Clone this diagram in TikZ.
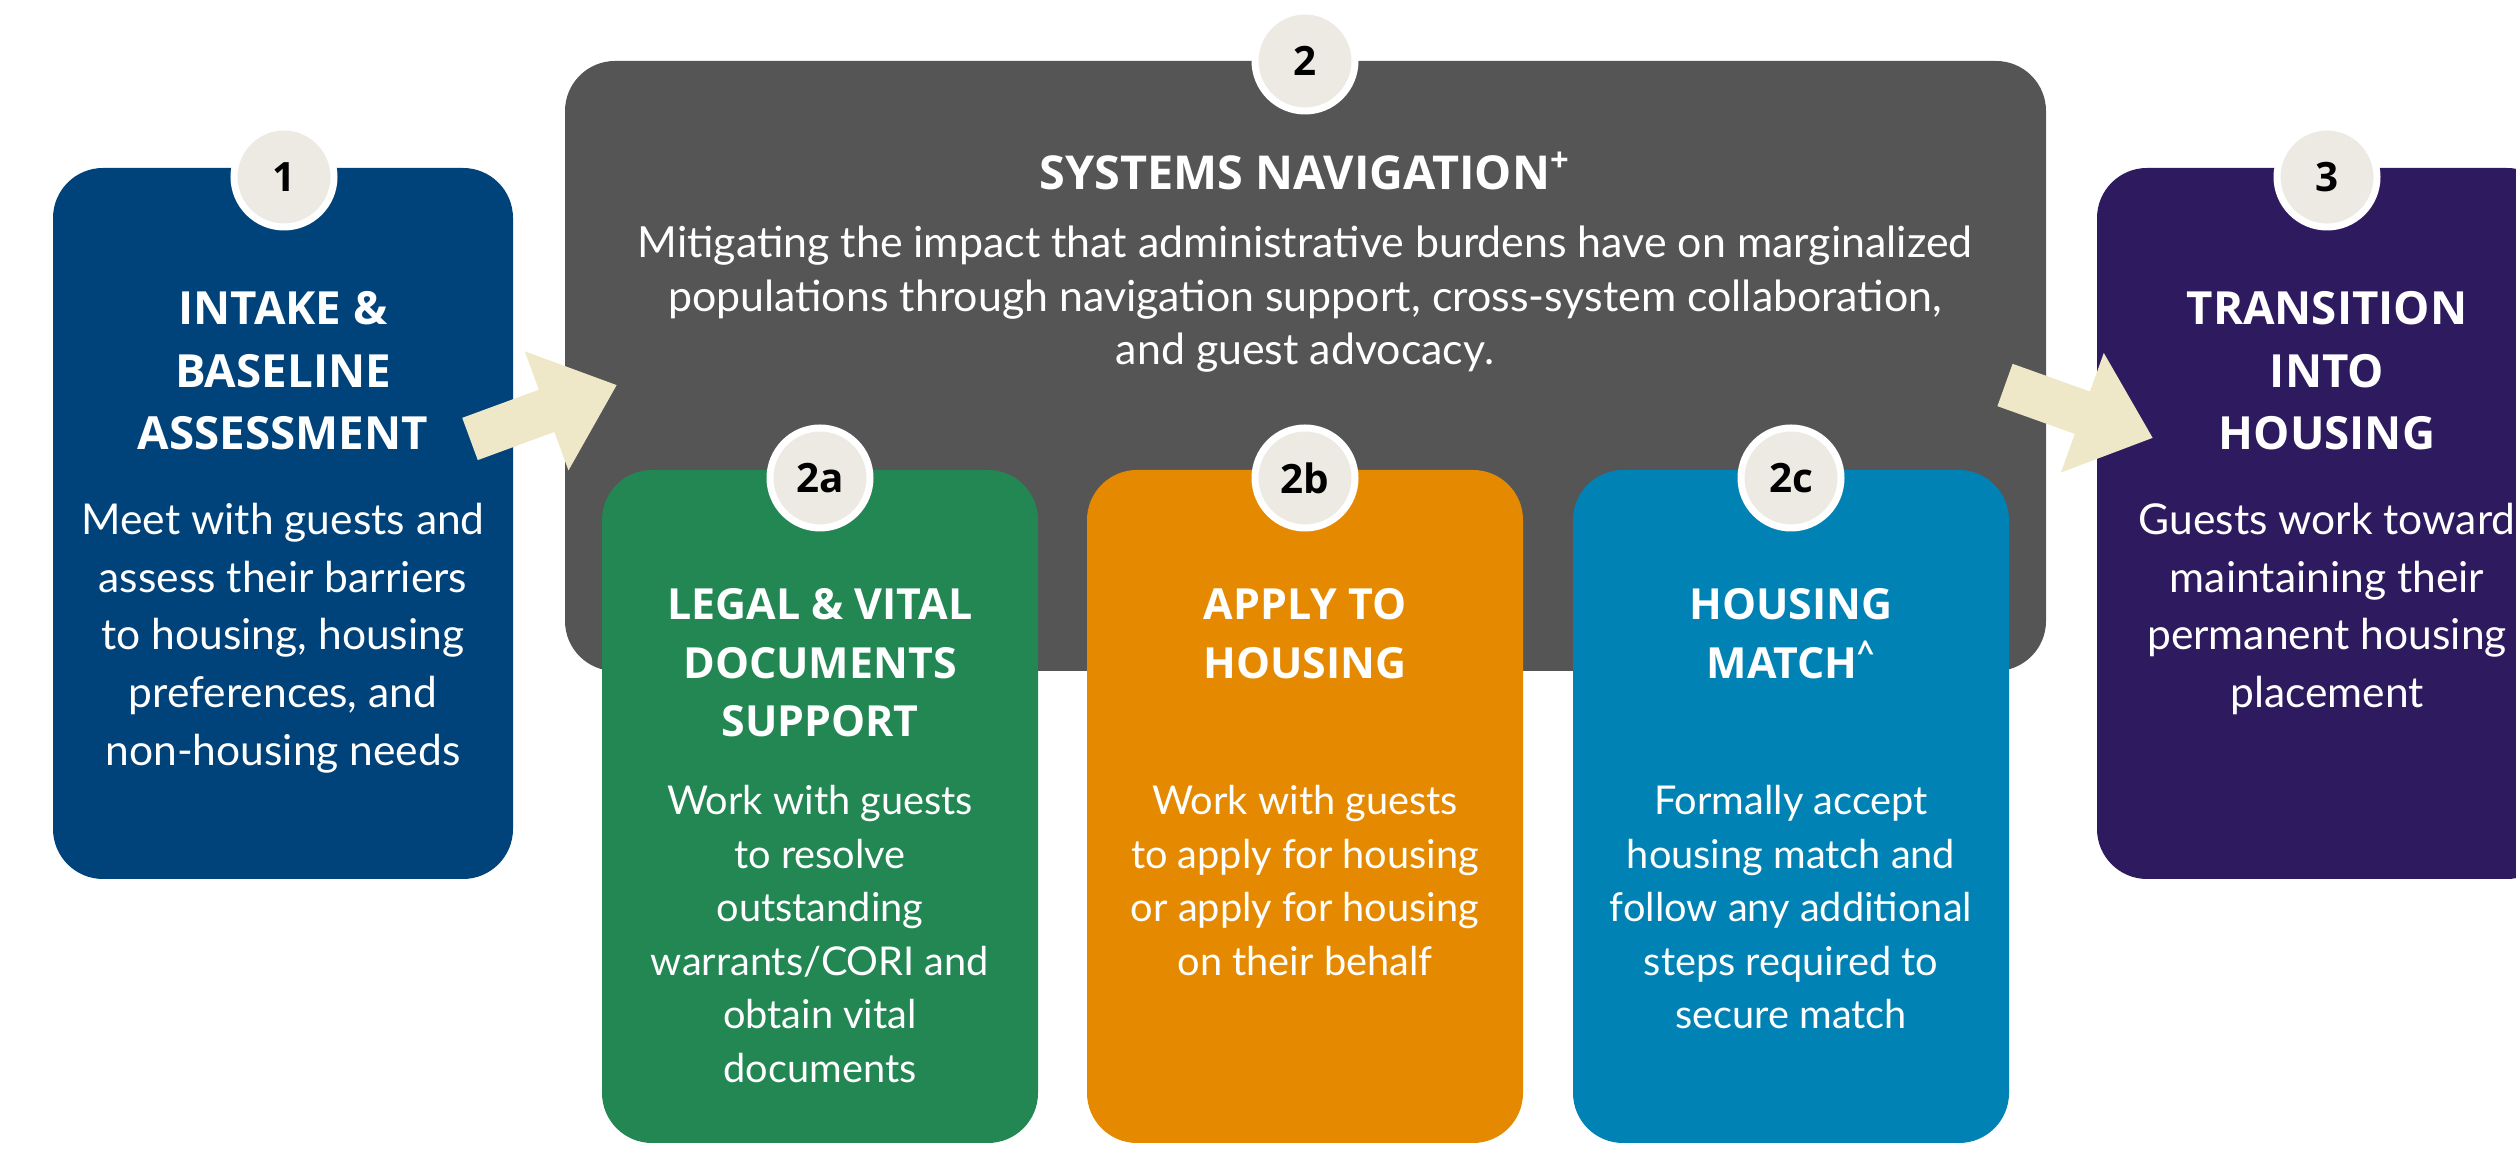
\documentclass[tikz,border=0pt]{standalone}
\usepackage{fontspec}
\setmainfont{Lato}
\newfontfamily\headfont{Open Sans}
\usetikzlibrary{arrows.meta}
\definecolor{intakeBlue}{RGB}{0,67,122}
\definecolor{navGray}{RGB}{85,85,85}
\definecolor{legalGreen}{RGB}{35,135,84}
\definecolor{applyOrange}{RGB}{229,138,0}
\definecolor{matchBlue}{RGB}{0,131,180}
\definecolor{transPurple}{RGB}{46,26,94}
\definecolor{badgeCream}{RGB}{236,234,226}
\definecolor{arrowCream}{RGB}{239,232,200}

\begin{document}
\begin{tikzpicture}
  \tikzstyle{card} = [rounded corners=0.5cm, draw=none, inner sep=0pt]
  \tikzstyle{badge} = [circle, fill=badgeCream, draw=white, line width=0.07cm, minimum size=1.0cm, inner sep=0pt, font=\headfont\fontsize{11.5}{11.5}\selectfont\bfseries]
  \tikzstyle{head} = [align=center, text=white, anchor=north, inner sep=0pt, font=\headfont\fontsize{13}{17.8}\selectfont\bfseries]
  \tikzstyle{subhead} = [head, font=\headfont\fontsize{12.2}{16.6}\selectfont\bfseries]
  \tikzstyle{body} = [align=center, text=white, anchor=north, inner sep=0pt, font=\fontsize{12.1}{16.5}\selectfont]
  \tikzstyle{subbody} = [body, font=\fontsize{11.3}{15.2}\selectfont]
  \tikzstyle{flow} = [draw=arrowCream, line width=0.45cm, -{Triangle[length=0.75cm, width=1.22cm]}]

  \useasboundingbox (0,0) rectangle (25.16,11.49);

  % big grey block behind the three sub steps
  \node[card, fill=navGray, minimum width=14.81cm, minimum height=6.10cm] (nav) at (13.055,7.83) {};
  \node[head, font=\headfont\fontsize{13.3}{17.8}\selectfont\bfseries] (navhead) at (13.05,9.98) {SYSTEMS NAVIGATION\textsuperscript{+}};
  \node[body, font=\fontsize{12.2}{15.3}\selectfont] (navbody) at (13.05,9.24) {Mitigating the impact that administrative burdens have on marginalized\\populations through navigation support, cross-system collaboration,\\and guest advocacy.};

  % outer steps
  \node[card, fill=intakeBlue, minimum width=4.60cm, minimum height=7.11cm] (intake) at (2.83,6.255) {};
  \node[card, fill=transPurple, minimum width=4.60cm, minimum height=7.11cm] (trans) at (23.27,6.255) {};

  % sub steps
  \node[card, fill=legalGreen, minimum width=4.36cm, minimum height=6.73cm] (legal) at (8.20,3.425) {};
  \node[card, fill=applyOrange, minimum width=4.36cm, minimum height=6.73cm] (apply) at (13.05,3.425) {};
  \node[card, fill=matchBlue, minimum width=4.36cm, minimum height=6.73cm] (match) at (17.91,3.425) {};

  % arrows
  \coordinate (flowAtail) at (4.70,7.10);
  \coordinate (flowAtip) at (6.17,7.64);
  \coordinate (flowBtail) at (20.05,7.64);
  \coordinate (flowBtip) at (21.53,7.11);
  \draw[flow] (flowAtail) -- (flowAtip);
  \draw[flow] (flowBtail) -- (flowBtip);

  % texts
  \node[head] (intakehead) at (2.83,8.58) {INTAKE \&\\BASELINE\\ASSESSMENT};
  \node[body] (intakebody) at (2.83,6.47) {Meet with guests and\\assess their barriers\\to housing, housing\\preferences, and\\non-housing needs};
  \node[head] (transhead) at (23.27,8.58) {TRANSITION\\INTO\\HOUSING};
  \node[body] (transbody) at (23.27,6.47) {Guests work toward\\maintaining their\\permanent housing\\placement};

  \node[subhead] (legalhead) at (8.20,5.61) {LEGAL \& VITAL\\DOCUMENTS\\SUPPORT};
  \node[subbody] (legalbody) at (8.20,3.64) {Work with guests\\to resolve\\outstanding\\warrants/CORI and\\obtain vital\\documents};
  \node[subhead] (applyhead) at (13.05,5.61) {APPLY TO\\HOUSING};
  \node[subbody] (applybody) at (13.05,3.64) {Work with guests\\to apply for housing\\or apply for housing\\on their behalf};
  \node[subhead] (matchhead) at (17.91,5.61) {HOUSING\\MATCH\textsuperscript{\textasciicircum}};
  \node[subbody] (matchbody) at (17.91,3.64) {Formally accept\\housing match and\\follow any additional\\steps required to\\secure match};

  % number badges
  \node[badge] (b1) at (2.84,9.72) {1};
  \node[badge] (b2) at (13.05,10.88) {2};
  \node[badge] (b2a) at (8.20,6.71) {2a};
  \node[badge] (b2b) at (13.05,6.71) {2b};
  \node[badge] (b2c) at (17.91,6.71) {2c};
  \node[badge] (b3) at (23.27,9.72) {3};
\end{tikzpicture}
\end{document}
